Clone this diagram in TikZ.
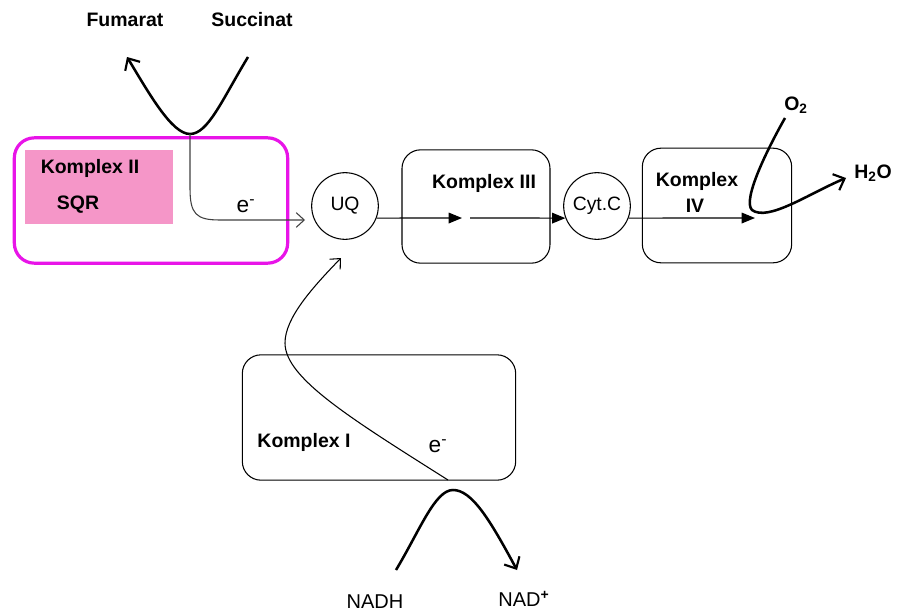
\documentclass[tikz,border=0pt]{standalone}
\usepackage{fontspec}
\setmainfont{Liberation Sans}
\usetikzlibrary{arrows.meta}
\definecolor{mag}{RGB}{232,20,232}
\definecolor{pinkfill}{RGB}{245,150,200}
\begin{document}
\begin{tikzpicture}[x=0.75pt,y=-0.75pt,
 box/.style={draw, rounded corners=14pt, line width=0.8pt, inner sep=0pt},
 circ/.style={draw, circle, minimum size=50pt, inner sep=0pt, line width=0.8pt, font=\fontsize{14.5}{16}\selectfont},
 lbl/.style={font=\bfseries\fontsize{14.6}{17}\selectfont, inner sep=0pt},
 plain/.style={font=\fontsize{15}{17}\selectfont, inner sep=0pt},
 elbl/.style={font=\fontsize{17}{20}\selectfont, inner sep=0pt},
 thinarr/.style={line width=0.8pt, draw=black!75, -{Straight Barb[length=6pt,width=11pt,line width=0.8pt]}},
 thickarr/.style={line width=1.9pt, -{Straight Barb[length=7pt,width=13pt,line width=1.6pt]}},
 mainarr/.style={line width=0.9pt, -{Triangle[length=10pt,width=8pt]}},
]
\useasboundingbox (0,0) rectangle (901,614);

% Komplex II
\node[box, draw=mag, line width=2.4pt, rounded corners=15pt, minimum width=205pt, minimum height=94pt] (k2) at (151,200.5) {};
\node[fill=pinkfill, minimum width=111pt, minimum height=55pt, inner sep=0pt] (sqrbox) at (99,187) {};
\node[lbl] (k2t) at (90,168) {Komplex II};
\node[lbl] (sqr) at (78,205) {SQR};

% circles and boxes
\node[circ] (uq) at (345,206) {UQ};
\node[box, minimum width=111pt, minimum height=85pt] (k3) at (476,206.5) {};
\node[lbl] (k3t) at (484,183) {Komplex III};
\node[circ] (cyt) at (597,206) {Cyt.C};
\node[box, minimum width=112pt, minimum height=86pt] (k4) at (717,205.5) {};
\node[lbl] (k4t) at (697,181) {Komplex};
\node[lbl] (k4t2) at (695,206) {IV};
\node[box, minimum width=205pt, minimum height=94pt] (k1) at (379,417.5) {};
\node[lbl] (k1t) at (304,442) {Komplex I};

% labels
\node[lbl] (fum) at (125,20) {Fumarat};
\node[lbl] (suc) at (252,20) {Succinat};
\node[lbl] (o2) at (796,105) {O\textsubscript{2}};
\node[lbl] (h2o) at (873,173) {H\textsubscript{2}O};
\node[plain] (nadh) at (375,602) {NADH};
\node[plain] (nad) at (524,599) {NAD\textsuperscript{\textbf{+}}};
\node[elbl] (e1) at (246,206) {e\textsuperscript{-}};
\node[elbl] (e2) at (438,446) {e\textsuperscript{-}};

% coordinates
\coordinate (sucstart) at (248,57);
\coordinate (fumend) at (127,57);
\coordinate (bot) at (190,134);
\coordinate (uqin) at (305,220);
\coordinate (uqbelow) at (341,258);
\coordinate (k1e) at (448,480);
\coordinate (nadhstart) at (396,570);
\coordinate (nadend) at (517,570);
\coordinate (m3) at (462,218);
\coordinate (m3b) at (470,218);
\coordinate (m4) at (755,218);
\coordinate (o2start) at (785,118);
\coordinate (o2tip) at (752,210);
\coordinate (h2oend) at (846,178);

% Succinat -> Fumarat
\draw[thickarr] (sucstart) .. controls (222,100) and (208,134) .. (bot)
  .. controls (172,134) and (150,95) .. (fumend);
% electrons from Komplex II to UQ
\draw[thinarr] (bot) -- (190,188) .. controls (190,214) and (196,220) .. (220,220) -- (uqin);
% electron chain
\draw[mainarr] (uq.-21) -- (m3);
\draw[mainarr] (m3b) -- (cyt.201);
\draw[mainarr] (cyt.-21) -- (m4);
% O2 -> H2O
\draw[thickarr] (o2start) .. controls (768,148) and (742,200) .. (o2tip)
  .. controls (768,222) and (810,193) .. (h2oend);
% Komplex I electrons
\draw[thinarr, draw=black] (k1e) .. controls (350,418) and (285,378) .. (285,343)
  .. controls (285,318) and (312,288) .. (uqbelow);
% NADH -> NAD+
\draw[thickarr] (nadhstart) .. controls (420,530) and (435,490) .. (453,490)
  .. controls (472,490) and (490,520) .. (nadend);
\end{tikzpicture}
\end{document}
